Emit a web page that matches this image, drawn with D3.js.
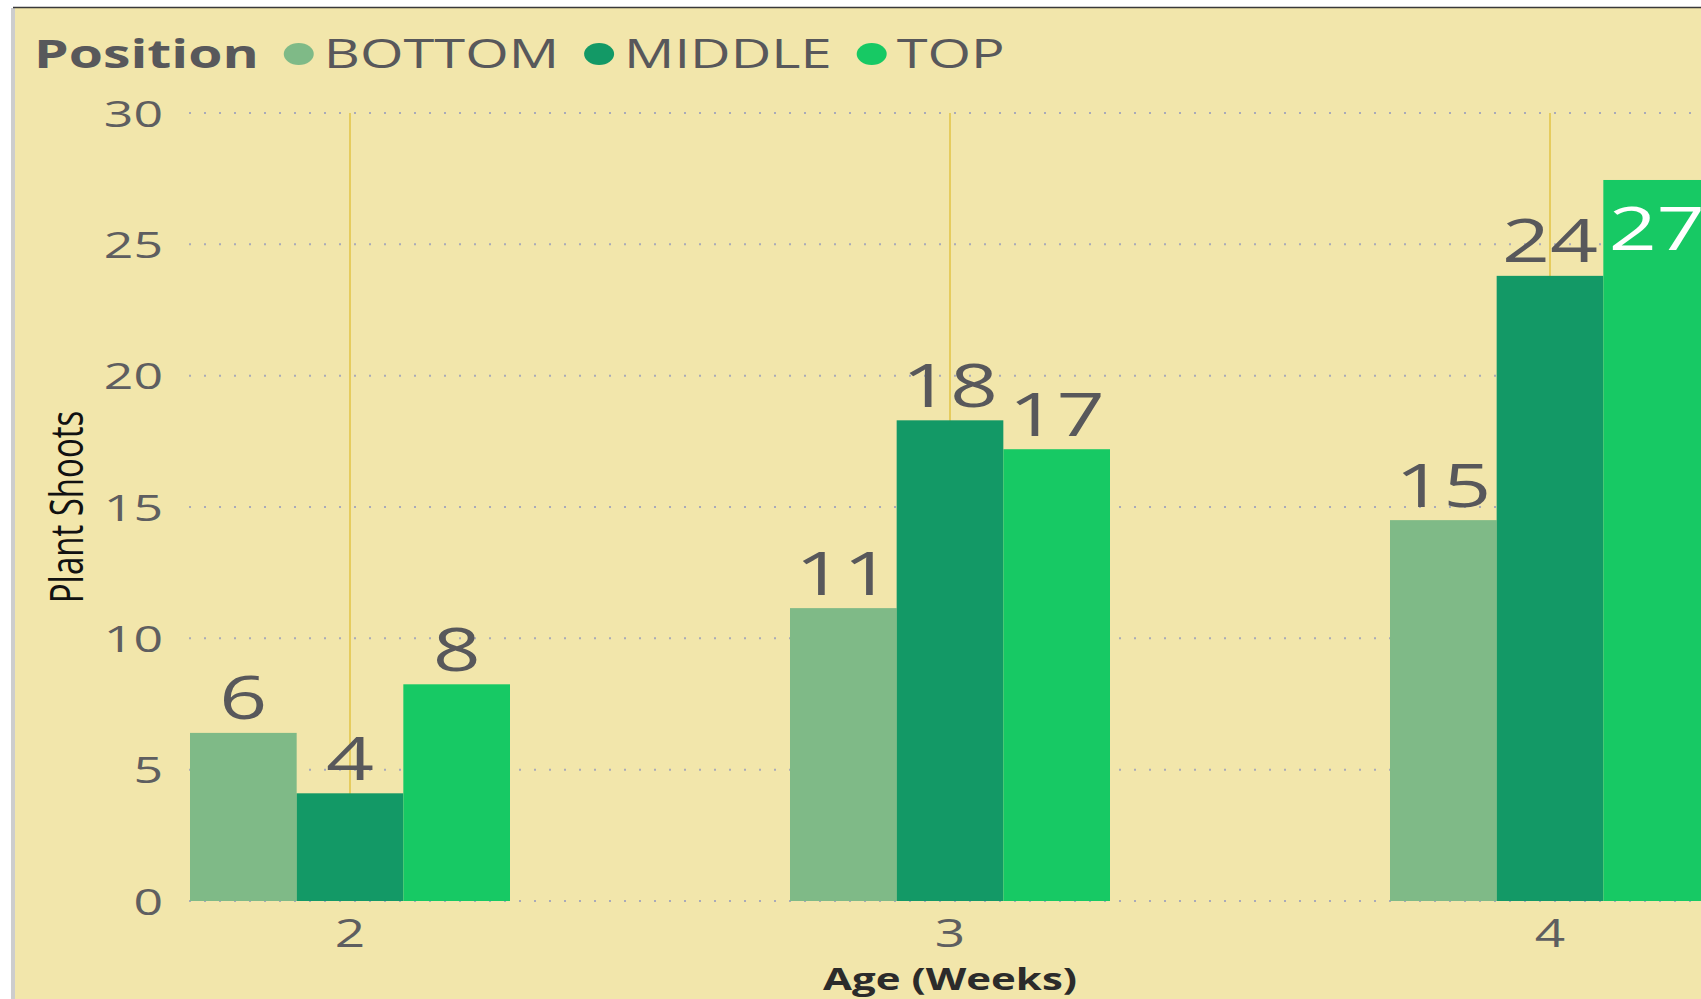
<!DOCTYPE html>
<html><head><meta charset="utf-8">
<script src="https://cdn.jsdelivr.net/npm/d3@7"></script>
<style>html,body{margin:0;padding:0;background:#fff;overflow:hidden}</style>
</head><body>
<svg id="chart" width="1701" height="999"></svg>
<script>
// ---- data ----
const weeks = ["2", "3", "4"];
const positions = ["BOTTOM", "MIDDLE", "TOP"];
const bottomValues = [6.4, 11.15, 14.5];
const middleValues = [4.1, 18.3, 23.8];
const topValues = [8.25, 17.2, 27.45];
const yTicks = [0, 5, 10, 15, 20, 25, 30];
const seriesColors = ["#7FBA87", "#139966", "#17C964"];
const legendTitle = "Position";
const xTitle = "Age (Weeks)";
const yTitle = "Plant Shoots";

// ---- setup ----
const W = 1701, H = 999, SX = 1.4;
const FONT = "'Open Sans', 'Segoe UI', sans-serif";
const svg = d3.select("#chart");

svg.append("rect").attr("width", W).attr("height", H).attr("fill", "#fff");
svg.append("rect").attr("x", 13).attr("y", 8).attr("width", W).attr("height", H).attr("fill", "#F2E6AB");
svg.append("rect").attr("x", 11).attr("y", 8).attr("width", 4).attr("height", H).attr("fill", "#CDCDCD");
svg.append("line").attr("x1", 13).attr("x2", W).attr("y1", 7.5).attr("y2", 7.5).attr("stroke", "#3a3a3a").attr("stroke-width", 1.5);

const x = d3.scaleBand().domain(weeks).range([190, 1710]).paddingInner(280 / 600).paddingOuter(0);
const xs = d3.scaleBand().domain(positions).range([0, x.bandwidth()]);
const y = d3.scaleLinear().domain([0, 30]).range([901, 113]);
const color = d3.scaleOrdinal().domain(positions).range(seriesColors);

const rows = weeks.map((w, i) => ({
  week: w,
  values: [
    { pos: positions[0], v: bottomValues[i] },
    { pos: positions[1], v: middleValues[i] },
    { pos: positions[2], v: topValues[i] }
  ]
}));

// horizontal dotted gridlines
svg.append("g").selectAll("line").data(yTicks).join("line")
  .attr("x1", 189).attr("x2", W)
  .attr("y1", d => y(d)).attr("y2", d => y(d))
  .attr("stroke", "#A9AAB9").attr("stroke-width", 2).attr("stroke-dasharray", "2 13");

// vertical category lines
svg.append("g").selectAll("line").data(weeks).join("line")
  .attr("x1", d => x(d) + x.bandwidth() / 2).attr("x2", d => x(d) + x.bandwidth() / 2)
  .attr("y1", y(30)).attr("y2", y(0))
  .attr("stroke", "#E6CC5E").attr("stroke-width", 2);

// bars
const groups = svg.append("g").selectAll("g").data(rows).join("g")
  .attr("transform", d => `translate(${x(d.week)},0)`);
groups.selectAll("rect").data(d => d.values).join("rect")
  .attr("x", d => xs(d.pos)).attr("width", xs.bandwidth())
  .attr("y", d => y(d.v)).attr("height", d => y(0) - y(d.v))
  .attr("fill", d => color(d.pos));

// data labels
const LFS = 60, capH = 0.714 * LFS;
const isInside = d => y(d.v) - 13.5 - capH < y(30) + 15;
groups.selectAll("text").data(d => d.values).join("text")
  .attr("transform", d => {
    const by = isInside(d) ? y(d.v) + 27 + capH : y(d.v) - 13.5;
    return `translate(${xs(d.pos) + xs.bandwidth() / 2},${by}) scale(${SX},1)`;
  })
  .attr("text-anchor", "middle")
  .attr("font-family", FONT).attr("font-size", LFS)
  .attr("fill", d => isInside(d) ? "#ffffff" : "#58585B")
  .text(d => Math.round(d.v));

// y axis
const yAxis = svg.append("g").attr("transform", "translate(163,0)")
  .call(d3.axisLeft(y).tickValues(yTicks).tickSize(0).tickPadding(0));
yAxis.select(".domain").remove();
yAxis.selectAll("text")
  .attr("x", 0).attr("dy", "0.36em")
  .attr("transform", `scale(${SX},1)`)
  .attr("font-family", FONT).attr("font-size", 37).attr("fill", "#5E5E60");

// x axis
const xAxis = svg.append("g").attr("transform", `translate(0,${y(0)})`)
  .call(d3.axisBottom(x).tickSize(0).tickPadding(0));
xAxis.select(".domain").remove();
xAxis.selectAll("text")
  .attr("y", 46).attr("dy", 0)
  .attr("transform", `scale(${SX},1)`)
  .attr("font-family", FONT).attr("font-size", 38).attr("fill", "#5E5E60");

// axis titles
svg.append("text")
  .attr("transform", `translate(950,990) scale(${SX},1)`)
  .attr("text-anchor", "middle")
  .attr("font-family", FONT).attr("font-size", 30).attr("font-weight", 700).attr("fill", "#2b2b2b")
  .text(xTitle);
svg.append("text")
  .attr("transform", `translate(83,507) scale(${SX},1) rotate(-90)`)
  .attr("text-anchor", "middle")
  .attr("font-family", FONT).attr("font-size", 33).attr("fill", "#111")
  .text(yTitle);

// legend
const legend = svg.append("g");
let cx = 34;
const baseY = 68, dotY = 54;
const t0 = legend.append("text")
  .attr("transform", `translate(${cx},${baseY}) scale(${SX},1)`)
  .attr("font-family", FONT).attr("font-size", 39.5).attr("font-weight", 700).attr("fill", "#58585B")
  .text(legendTitle);
cx += t0.node().getComputedTextLength() * SX;
positions.forEach((p, i) => {
  cx += 25;
  legend.append("ellipse")
    .attr("cx", cx + 15).attr("cy", dotY).attr("rx", 15).attr("ry", 11)
    .attr("fill", color(p));
  cx += 30 + 10;
  const t = legend.append("text")
    .attr("transform", `translate(${cx},${baseY}) scale(${SX},1)`)
    .attr("font-family", FONT).attr("font-size", 40).attr("fill", "#58585B")
    .text(p);
  cx += t.node().getComputedTextLength() * SX;
});
</script>
</body></html>
